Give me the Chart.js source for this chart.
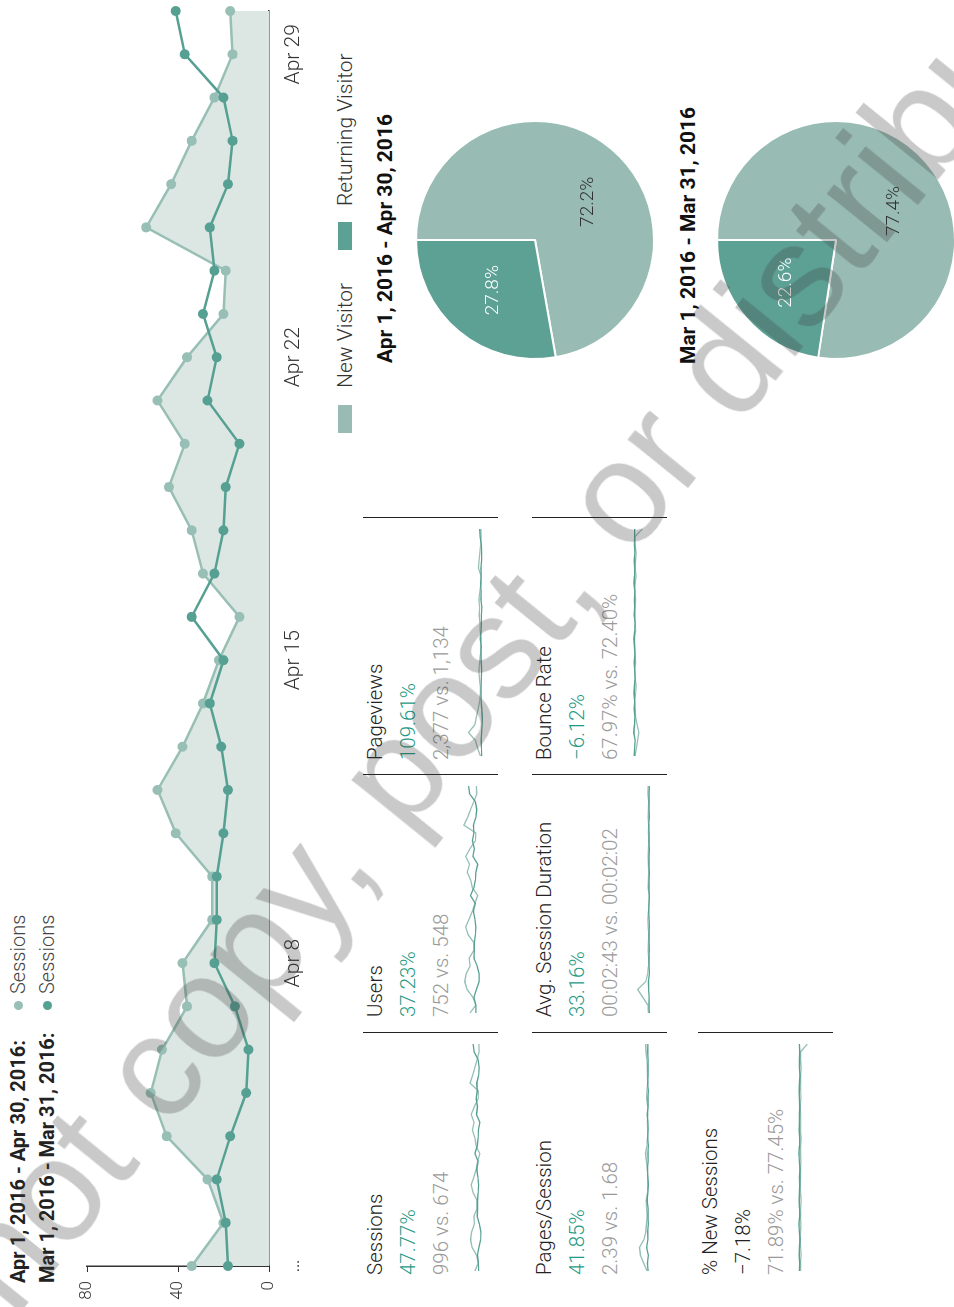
<!DOCTYPE html>
<html>
<head>
<meta charset="utf-8">
<script src="https://cdn.jsdelivr.net/npm/chart.js@4.4.1/dist/chart.umd.min.js"></script>
<style>
  html, body { margin: 0; padding: 0; background: #fff; overflow: hidden; }
  body { width: 954px; height: 1307px; position: relative; }
  #page {
    position: absolute; left: 0; top: 0; width: 1307px; height: 954px;
    transform-origin: 0 0; transform: translateY(1307px) rotate(-90deg);
    font-family: Roboto, "Noto Sans", sans-serif; color: #222;
  }
  .abs { position: absolute; white-space: nowrap; }
  .legend-line { font-size: 20px; font-weight: 700; line-height: 20px; }
  .legend-item { font-size: 20px; font-weight: 300; color: #444; line-height: 20px; }
  .dot { position: absolute; width: 9px; height: 9px; border-radius: 50%; }
  .kpi { position: absolute; height: 135px; border-right: 1.5px solid #222; box-sizing: border-box; }
  .kpi .name { position: absolute; left: 15px; top: 0; font-size: 20.5px; font-weight: 300; color: #222; line-height: 24px; }
  .kpi .chg { position: absolute; left: 15px; top: 33px; font-size: 20.5px; font-weight: 300; color: #1f9a84; line-height: 24px; }
  .kpi .chg.neg { color: #222; }
  .kpi .cmp { position: absolute; left: 15px; top: 66px; font-size: 20.5px; font-weight: 300; color: #9a9a9a; line-height: 24px; }
  .kpi canvas { position: absolute; left: 18px; top: 94px; }
  .pie-leg { font-size: 21px; font-weight: 300; color: #333; line-height: 22px; }
  .swatch { position: absolute; width: 28px; height: 14px; }
  .pie-title { font-size: 21px; font-weight: 700; color: #111; line-height: 22px; }
  #wm {
    position: absolute; left: 452px; top: 700px; white-space: nowrap;
    font-family: "Liberation Sans", Arial, sans-serif; font-size: 146px;
    color: rgba(60, 60, 60, 0.28); transform: translate(-50%, -50%) rotate(-51deg);
    pointer-events: none; z-index: 10;
  }
</style>
</head>
<body>
<div id="page">
  <div class="abs legend-line" style="left:24px; top:8px;">Apr 1, 2016 - Apr 30, 2016:</div>
  <div class="dot" style="left:297px; top:14px; background:#97bfb5;"></div>
  <div class="abs legend-item" style="left:313px; top:8px;">Sessions</div>
  <div class="abs legend-line" style="left:24px; top:37px;">Mar 1, 2016 - Mar 31, 2016:</div>
  <div class="dot" style="left:297px; top:43px; background:#55a092;"></div>
  <div class="abs legend-item" style="left:313px; top:37px;">Sessions</div>

  <canvas id="mainChart" width="1307" height="330" style="position:absolute; left:0; top:0;"></canvas>

  <div id="kpis"></div>

  <div class="swatch" style="left:874px; top:338px; background:#98bcb3;"></div>
  <div class="abs pie-leg" style="left:919px; top:334px;">New Visitor</div>
  <div class="swatch" style="left:1057px; top:338px; background:#5da195;"></div>
  <div class="abs pie-leg" style="left:1101px; top:334px;">Returning Visitor</div>

  <div class="abs pie-title" style="left:944px; top:374px;">Apr 1, 2016 - Apr 30, 2016</div>
  <canvas id="pieApr" width="260" height="260" style="position:absolute; left:937px; top:405px;"></canvas>
  <div class="abs pie-title" style="left:943px; top:677px;">Mar 1, 2016 - Mar 31, 2016</div>
  <canvas id="pieMar" width="260" height="260" style="position:absolute; left:937px; top:706px;"></canvas>
</div>
<div id="wm">Do not copy, post, or distribute</div>

<script>
// ---- data ----
const dayLabels = ['Apr 1','Apr 2','Apr 3','Apr 4','Apr 5','Apr 6','Apr 7','Apr 8','Apr 9','Apr 10',
  'Apr 11','Apr 12','Apr 13','Apr 14','Apr 15','Apr 16','Apr 17','Apr 18','Apr 19','Apr 20',
  'Apr 21','Apr 22','Apr 23','Apr 24','Apr 25','Apr 26','Apr 27','Apr 28','Apr 29','Apr 30'];
const shownTicks = ['Apr 8', 'Apr 15', 'Apr 22', 'Apr 29'];
const yTicks = [0, 40, 80];

const sessionsApr = [34,20,27,45,52,47,36,38,25,25,41,49,38,29,22,13,29,34,44,37,49,36,20,19,54,43,34,24,16,17];
const sessionsMar = [18,19,23,17,10,9,15,24,23,23,20,18,21,26,20,34,24,20,19,13,27,23,29,24,26,18,16,20,37,41];

const usersApr = [27,15,21,33,38,35,27,29,19,19,31,36,29,22,17,11,22,26,33,28,36,27,16,15,40,32,26,19,13,14];
const usersMar = [15,15,19,14,8,8,12,19,18,18,16,15,17,20,16,26,19,16,15,11,21,18,22,19,20,15,13,16,28,30];
const pageviewsApr = [55,110,160,300,170,140,100,70,55,60,75,85,70,55,50,35,60,65,80,70,85,65,45,40,95,80,65,50,40,45];
const pageviewsMar = [30,32,40,28,17,16,26,40,38,38,34,30,36,44,34,58,40,34,32,22,46,40,48,40,44,30,28,34,62,68];
const pagesPerSessionApr = [2.0,3.5,4.8,5.2,3.4,2.6,2.3,2.0,2.2,2.4,1.9,1.7,1.8,1.9,2.3,2.7,2.1,1.9,1.8,1.9,1.7,1.8,2.2,2.1,1.8,1.9,1.9,2.1,2.5,2.6];
const pagesPerSessionMar = [1.6,1.9,1.5,2.2,1.7,1.8,1.5,1.7,1.6,2.0,1.7,1.5,1.7,1.9,1.6,1.7,1.5,1.8,1.6,1.7,2.0,1.6,1.7,1.5,1.8,1.6,1.7,1.6,1.8,1.7];
const durationApr = [150,170,380,600,260,180,150,140,160,150,130,160,170,150,140,120,160,150,140,150,160,150,130,150,140,160,150,140,170,160];
const durationMar = [110,130,120,140,150,110,120,130,110,120,130,110,120,140,120,110,130,120,110,130,120,110,130,120,140,110,120,130,120,110];
const bounceApr = [70,65,60,55,62,68,70,72,68,66,70,72,68,70,72,74,68,70,72,70,68,72,70,66,70,68,66,70,72,40];
const bounceMar = [74,72,70,76,73,71,74,72,75,73,70,72,74,71,73,75,72,70,74,72,73,71,75,73,72,74,71,73,72,72];
const newSessApr = [72,74,70,72,75,73,71,74,72,70,73,75,72,74,71,73,72,70,74,72,73,75,71,72,74,72,70,73,72,45];
const newSessMar = [78,76,79,77,75,78,80,76,77,79,78,76,77,75,78,80,77,76,79,78,77,76,78,79,77,75,78,77,76,78];

const kpiNames = ['Sessions', 'Users', 'Pageviews', 'Pages/Session', 'Avg. Session Duration', 'Bounce Rate', '% New Sessions'];
const kpiChanges = ['47.77%', '37.23%', '109.61%', '41.85%', '33.16%', '\u22126.12%', '\u22127.18%'];
const kpiCompare = ['996 vs. 674', '752 vs. 548', '2,377 vs. 1,134', '2.39 vs. 1.68', '00:02:43 vs. 00:02:02', '67.97% vs. 72.40%', '71.89% vs. 77.45%'];
const kpiSeries = [
  [sessionsApr, sessionsMar], [usersApr, usersMar], [pageviewsApr, pageviewsMar],
  [pagesPerSessionApr, pagesPerSessionMar], [durationApr, durationMar],
  [bounceApr, bounceMar], [newSessApr, newSessMar]
];

const visitorLabels = ['New Visitor', 'Returning Visitor'];
const visitorsApr = [72.2, 27.8];
const visitorsMar = [77.4, 22.6];

const LIGHT = '#97bfb5';
const DARK = '#55a092';

Chart.defaults.font.family = 'Roboto, "Noto Sans", sans-serif';
Chart.defaults.animation = false;

// --- Gráfico principal ---
new Chart(document.getElementById('mainChart'), {
  type: 'line',
  data: {
    labels: dayLabels,
    datasets: [{
      label: 'Sessions (Apr)',
      data: sessionsApr,
      borderColor: LIGHT,
      backgroundColor: '#dce6e3',
      pointBackgroundColor: LIGHT,
      pointBorderWidth: 0,
      pointRadius: 5,
      borderWidth: 2.5,
      fill: 'origin',
      clip: false,
      order: 2
    }, {
      label: 'Sessions (Mar)',
      data: sessionsMar,
      borderColor: DARK,
      pointBackgroundColor: DARK,
      pointBorderWidth: 0,
      pointRadius: 5,
      borderWidth: 2.5,
      fill: false,
      clip: false,
      order: 1
    }]
  },
  options: {
    responsive: false,
    layout: { padding: { top: 87, right: 11, left: 0, bottom: 0 } },
    plugins: { legend: { display: false }, tooltip: { enabled: false } },
    scales: {
      x: {
        offset: false,
        grid: { display: false },
        border: { display: true, color: '#333', width: 1.5 },
        ticks: {
          autoSkip: false, maxRotation: 0, padding: 4, color: '#333',
          font: { size: 21, weight: 300 },
          callback: (v, i) => i === 0 ? '\u2026' : (shownTicks.includes(dayLabels[i]) ? dayLabels[i] : '')
        },
        afterFit: s => { s.height = 61; }
      },
      y: {
        min: yTicks[0], max: yTicks[yTicks.length - 1],
        afterBuildTicks: s => { s.ticks = yTicks.map(v => ({ value: v })); },
        grid: { drawOnChartArea: false, drawTicks: true, tickLength: 6, color: '#333' },
        border: { display: true, color: '#333', width: 1.5 },
        ticks: { color: '#333', padding: 9, font: { size: 17, weight: 300 } },
        afterFit: s => { s.width = 41; }
      }
    }
  }
});

// --- KPIs ---
const rowTops = [363, 532, 698];
const colRights = [274, 532, 789];
const kpiBox = document.getElementById('kpis');
kpiNames.forEach((name, k) => {
  const row = Math.floor(k / 3), col = k % 3;
  const cell = document.createElement('div');
  cell.className = 'kpi';
  cell.style.left = (colRights[col] - 257) + 'px';
  cell.style.width = '258px';
  cell.style.top = rowTops[row] + 'px';
  const neg = name === '% New Sessions';
  cell.innerHTML = `
    <div class="name">${name}</div>
    <div class="chg${neg ? ' neg' : ''}">${kpiChanges[k]}</div>
    <div class="cmp">${kpiCompare[k]}</div>
    <canvas width="229" height="28"></canvas>`;
  kpiBox.appendChild(cell);
  const [apr, mar] = kpiSeries[k];
  new Chart(cell.querySelector('canvas'), {
    type: 'line',
    data: {
      labels: dayLabels,
      datasets: [
        { data: mar, borderColor: DARK, borderWidth: 1.3, pointRadius: 0, tension: 0 },
        { data: apr, borderColor: LIGHT, borderWidth: 1.3, pointRadius: 0, tension: 0 }
      ]
    },
    options: {
      responsive: false,
      layout: { padding: { top: 2, bottom: 2, left: 1, right: 1 } },
      plugins: { legend: { display: false }, tooltip: { enabled: false } },
      scales: { x: { display: false }, y: { display: false, beginAtZero: true } }
    }
  });
});

// --- Pie charts ---
const pieLabelPlugin = {
  id: 'pieLabelPlugin',
  afterDatasetsDraw(chart) {
    const { ctx } = chart;
    const meta = chart.getDatasetMeta(0);
    const values = chart.data.datasets[0].data;
    meta.data.forEach((arc, i) => {
      const mid = (arc.startAngle + arc.endAngle) / 2 + (i === 0 ? 0.25 : 0);
      const r = arc.outerRadius * 0.55;
      ctx.save();
      ctx.fillStyle = i === 1 ? '#fff' : '#333';
      ctx.font = '300 19px Roboto, sans-serif';
      ctx.textAlign = 'center';
      ctx.textBaseline = 'middle';
      ctx.fillText(values[i].toFixed(1) + '%', arc.x + Math.cos(mid) * r, arc.y + Math.sin(mid) * r);
      ctx.restore();
    });
  }
};

function makePie(id, values) {
  new Chart(document.getElementById(id), {
    type: 'pie',
    data: {
      labels: visitorLabels,
      datasets: [{ data: values, backgroundColor: ['#98bcb3', '#5da195'], borderColor: '#fff', borderWidth: 2 }]
    },
    options: {
      responsive: false,
      layout: { padding: 10 },
      plugins: { legend: { display: false }, tooltip: { enabled: false } }
    },
    plugins: [pieLabelPlugin]
  });
}
makePie('pieApr', visitorsApr);
makePie('pieMar', visitorsMar);
</script>
</body>
</html>
